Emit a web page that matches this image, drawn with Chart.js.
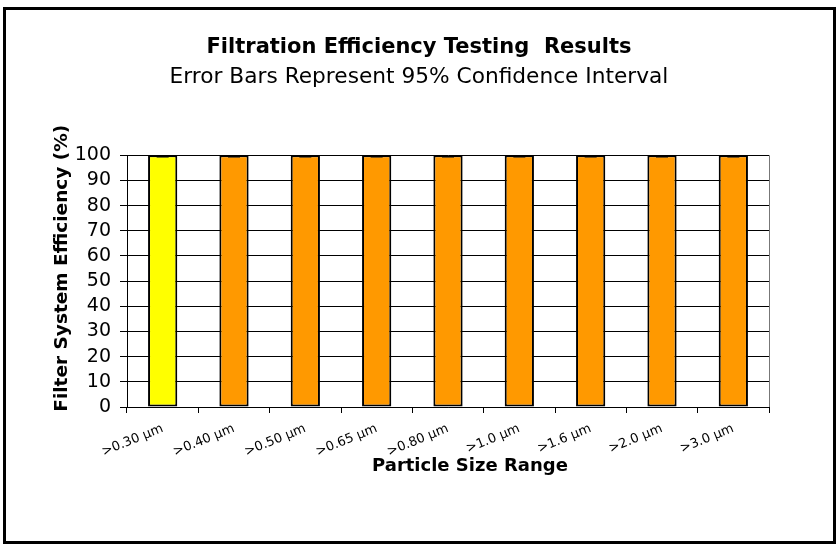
<!DOCTYPE html>
<html><head><meta charset="utf-8">
<script src="https://cdn.jsdelivr.net/npm/chart.js@4"></script>
<style>html,body{margin:0;padding:0;background:#fff;}canvas{display:block;}</style>
</head><body>
<canvas id="c" width="838" height="546"></canvas>
<script>
const categories = [">0.30 µm", ">0.40 µm", ">0.50 µm", ">0.65 µm", ">0.80 µm", ">1.0 µm", ">1.6 µm", ">2.0 µm", ">3.0 µm"];
const efficiency = [99.95, 99.95, 99.95, 99.95, 99.95, 99.95, 99.95, 99.95, 99.95];
const ciHalfWidth = [0.5, 0.5, 0.5, 0.5, 0.5, 0.5, 0.5, 0.5, 0.5];
const yTicks = [0, 10, 20, 30, 40, 50, 60, 70, 80, 90, 100];
const barColors = ["#FFFF00", "#FF9900", "#FF9900", "#FF9900", "#FF9900", "#FF9900", "#FF9900", "#FF9900", "#FF9900"];

const FONT = "'DejaVu Sans', Arial, Helvetica, sans-serif";

const frame = {
  id: 'frame',
  beforeDraw(chart) {
    const ctx = chart.ctx;
    ctx.save();
    ctx.fillStyle = '#fff';
    ctx.fillRect(0, 0, chart.width, chart.height);
    ctx.strokeStyle = '#000';
    ctx.lineWidth = 3;
    ctx.strokeRect(4.5, 8.5, 830, 534);
    ctx.restore();
  },
  afterDraw(chart) {
    const a = chart.chartArea, ctx = chart.ctx;
    ctx.save();
    ctx.strokeStyle = '#777';
    ctx.lineWidth = 1;
    ctx.beginPath();
    ctx.moveTo(Math.round(a.right) + 0.5, a.top);
    ctx.lineTo(Math.round(a.right) + 0.5, a.bottom);
    ctx.stroke();
    ctx.restore();
  }
};

const errorBars = {
  id: 'errorBars',
  afterDatasetsDraw(chart) {
    const ctx = chart.ctx, y = chart.scales.y, a = chart.chartArea;
    const meta = chart.getDatasetMeta(0);
    ctx.save();
    ctx.beginPath();
    ctx.rect(a.left, a.top + 1, a.right - a.left, a.bottom - a.top);
    ctx.clip();
    ctx.strokeStyle = '#000';
    ctx.lineWidth = 2;
    meta.data.forEach((bar, i) => {
      const yl = y.getPixelForValue(efficiency[i] - ciHalfWidth[i]);
      const yh = y.getPixelForValue(efficiency[i] + ciHalfWidth[i]);
      const x = bar.x, hw = 6;
      ctx.beginPath();
      ctx.moveTo(x, yl); ctx.lineTo(x, yh);
      ctx.moveTo(x - hw, yl); ctx.lineTo(x + hw, yl);
      ctx.moveTo(x - hw, yh); ctx.lineTo(x + hw, yh);
      ctx.stroke();
    });
    ctx.restore();
  }
};

new Chart(document.getElementById('c'), {
  type: 'bar',
  data: {
    labels: categories,
    datasets: [{
      data: efficiency,
      backgroundColor: barColors,
      borderColor: '#000',
      borderWidth: 2,
      borderSkipped: false,
      barPercentage: 0.41,
      categoryPercentage: 1.0
    }]
  },
  options: {
    responsive: false,
    animation: false,
    devicePixelRatio: 1,
    layout: { padding: { left: 69, right: 69, top: 0, bottom: 69 } },
    plugins: {
      legend: { display: false },
      tooltip: { enabled: false },
      title: {
        display: true,
        text: 'Filtration Efficiency Testing  Results',
        color: '#000',
        font: { family: FONT, size: 21, weight: 'bold' },
        padding: { top: 35, bottom: 4 }
      },
      subtitle: {
        display: true,
        text: 'Error Bars Represent 95% Confidence Interval',
        color: '#000',
        font: { family: FONT, size: 21.7, weight: 'normal' },
        padding: { top: 0, bottom: 65 }
      }
    },
    scales: {
      x: {
        grid: { display: true, drawOnChartArea: false, drawTicks: true, tickLength: 6, color: '#000', offset: true },
        border: { display: true, color: '#000', width: 1 },
        ticks: { color: '#000', font: { family: FONT, size: 13 }, maxRotation: 22, minRotation: 22, padding: 8, autoSkip: false },
        title: { display: true, text: '       Particle Size Range', color: '#000', font: { family: FONT, size: 18, weight: 'bold' }, padding: { top: 0, bottom: 0 } },
        afterFit(s) { s.height = 70; }
      },
      y: {
        min: 0, max: 100,
        afterBuildTicks(s) { s.ticks = yTicks.map(v => ({ value: v })); },
        grid: { color: '#000', lineWidth: 1, drawTicks: true, tickLength: 7 },
        border: { display: true, color: '#000', width: 1 },
        ticks: { color: '#000', font: { family: FONT, size: 19 }, padding: 9, autoSkip: false },
        title: { display: true, text: '    Filter System Efficiency (%)', color: '#000', font: { family: FONT, size: 18.5, weight: 'bold' }, padding: { top: -18, bottom: 0 } },
        afterFit(s) { s.width = 58; }
      }
    }
  },
  plugins: [frame, errorBars]
});
</script>
</body></html>
